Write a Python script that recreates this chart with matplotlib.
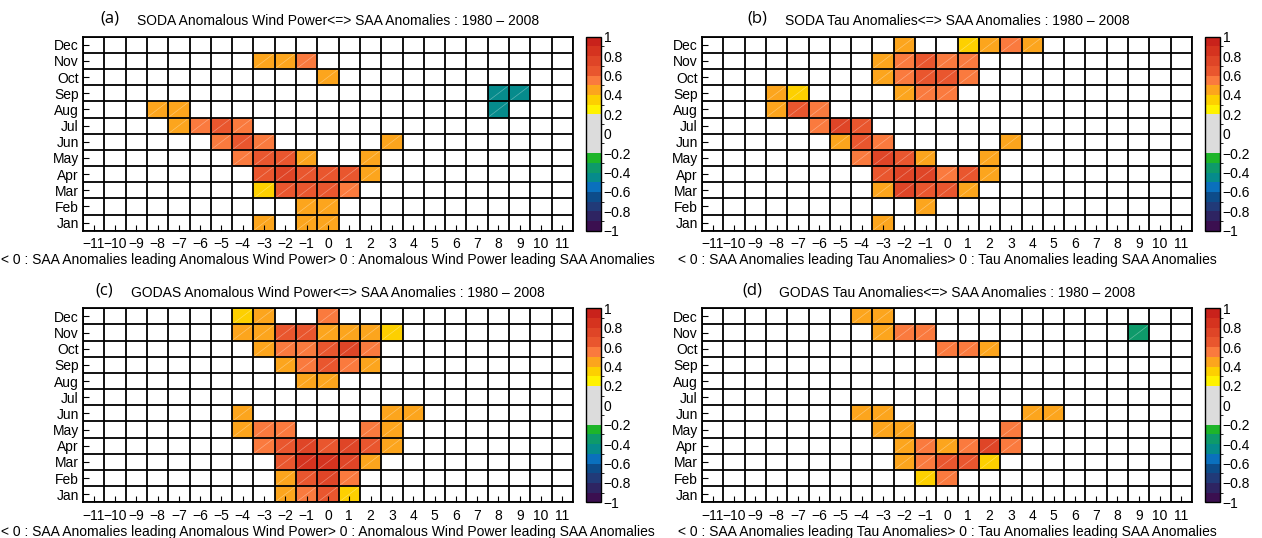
import numpy as np
import matplotlib
matplotlib.use('Agg')
import matplotlib.pyplot as plt
from matplotlib.colors import ListedColormap, BoundaryNorm
from matplotlib.cm import ScalarMappable

plt.rcParams['font.family'] = ['Liberation Sans', 'DejaVu Sans']
plt.rcParams['axes.unicode_minus'] = True

lags = list(range(-11, 12))
months = ['Jan', 'Feb', 'Mar', 'Apr', 'May', 'Jun', 'Jul', 'Aug', 'Sep', 'Oct', 'Nov', 'Dec']

# significant correlations: (month, lag, value)
soda_windpower = [
    ('Nov', -3, 0.45), ('Nov', -2, 0.45), ('Nov', -1, 0.55),
    ('Oct', 0, 0.45),
    ('Sep', 8, -0.45), ('Sep', 9, -0.45),
    ('Aug', -8, 0.45), ('Aug', -7, 0.45), ('Aug', 8, -0.45),
    ('Jul', -7, 0.45), ('Jul', -6, 0.55), ('Jul', -5, 0.65), ('Jul', -4, 0.55),
    ('Jun', -5, 0.55), ('Jun', -4, 0.65), ('Jun', -3, 0.55), ('Jun', 3, 0.45),
    ('May', -4, 0.55), ('May', -3, 0.65), ('May', -2, 0.65), ('May', -1, 0.45), ('May', 2, 0.45),
    ('Apr', -3, 0.65), ('Apr', -2, 0.75), ('Apr', -1, 0.65), ('Apr', 0, 0.65), ('Apr', 1, 0.65), ('Apr', 2, 0.45),
    ('Mar', -3, 0.35), ('Mar', -2, 0.65), ('Mar', -1, 0.65), ('Mar', 0, 0.65), ('Mar', 1, 0.55),
    ('Feb', -1, 0.45), ('Feb', 0, 0.45),
    ('Jan', -3, 0.45), ('Jan', -1, 0.45), ('Jan', 0, 0.45),
]

soda_tau = [
    ('Dec', -2, 0.45), ('Dec', 1, 0.35), ('Dec', 2, 0.45), ('Dec', 3, 0.55), ('Dec', 4, 0.45),
    ('Nov', -3, 0.45), ('Nov', -2, 0.55), ('Nov', -1, 0.65), ('Nov', 0, 0.55), ('Nov', 1, 0.55),
    ('Oct', -3, 0.45), ('Oct', -2, 0.55), ('Oct', -1, 0.65), ('Oct', 0, 0.65), ('Oct', 1, 0.55),
    ('Sep', -8, 0.45), ('Sep', -7, 0.35), ('Sep', -2, 0.45), ('Sep', -1, 0.55), ('Sep', 0, 0.55),
    ('Aug', -8, 0.45), ('Aug', -7, 0.65), ('Aug', -6, 0.55),
    ('Jul', -6, 0.55), ('Jul', -5, 0.75), ('Jul', -4, 0.65),
    ('Jun', -5, 0.45), ('Jun', -4, 0.65), ('Jun', -3, 0.55), ('Jun', 3, 0.45),
    ('May', -4, 0.55), ('May', -3, 0.75), ('May', -2, 0.65), ('May', -1, 0.45), ('May', 2, 0.45),
    ('Apr', -3, 0.65), ('Apr', -2, 0.75), ('Apr', -1, 0.75), ('Apr', 0, 0.55), ('Apr', 1, 0.65), ('Apr', 2, 0.45),
    ('Mar', -3, 0.45), ('Mar', -2, 0.75), ('Mar', -1, 0.65), ('Mar', 0, 0.65), ('Mar', 1, 0.45),
    ('Feb', -1, 0.45),
    ('Jan', -3, 0.45),
]

godas_windpower = [
    ('Dec', -4, 0.35), ('Dec', -3, 0.45), ('Dec', 0, 0.55),
    ('Nov', -4, 0.45), ('Nov', -3, 0.45), ('Nov', -2, 0.65), ('Nov', -1, 0.65), ('Nov', 0, 0.45),
    ('Nov', 1, 0.45), ('Nov', 2, 0.45), ('Nov', 3, 0.35),
    ('Oct', -3, 0.45), ('Oct', -2, 0.55), ('Oct', -1, 0.55), ('Oct', 0, 0.65), ('Oct', 1, 0.75), ('Oct', 2, 0.55),
    ('Sep', -2, 0.45), ('Sep', -1, 0.55), ('Sep', 0, 0.65), ('Sep', 1, 0.55), ('Sep', 2, 0.45),
    ('Aug', -1, 0.45), ('Aug', 0, 0.45),
    ('Jun', -4, 0.45), ('Jun', 3, 0.45), ('Jun', 4, 0.45),
    ('May', -4, 0.45), ('May', -3, 0.55), ('May', -2, 0.55), ('May', 2, 0.55), ('May', 3, 0.45),
    ('Apr', -3, 0.55), ('Apr', -2, 0.65), ('Apr', -1, 0.75), ('Apr', 0, 0.65), ('Apr', 1, 0.75),
    ('Apr', 2, 0.65), ('Apr', 3, 0.45),
    ('Mar', -2, 0.65), ('Mar', -1, 0.85), ('Mar', 0, 0.85), ('Mar', 1, 0.75), ('Mar', 2, 0.45),
    ('Feb', -2, 0.45), ('Feb', -1, 0.65), ('Feb', 0, 0.75), ('Feb', 1, 0.55),
    ('Jan', -2, 0.45), ('Jan', -1, 0.55), ('Jan', 0, 0.65), ('Jan', 1, 0.35),
]

godas_tau = [
    ('Dec', -4, 0.45), ('Dec', -3, 0.45),
    ('Nov', -3, 0.45), ('Nov', -2, 0.55), ('Nov', -1, 0.55), ('Nov', 9, -0.35),
    ('Oct', 0, 0.55), ('Oct', 1, 0.55), ('Oct', 2, 0.45),
    ('Jun', -4, 0.45), ('Jun', -3, 0.45), ('Jun', 4, 0.45), ('Jun', 5, 0.45),
    ('May', -3, 0.45), ('May', -2, 0.45), ('May', 3, 0.55),
    ('Apr', -2, 0.45), ('Apr', -1, 0.55), ('Apr', 0, 0.45), ('Apr', 1, 0.55), ('Apr', 2, 0.75), ('Apr', 3, 0.55),
    ('Mar', -2, 0.45), ('Mar', -1, 0.55), ('Mar', 0, 0.65), ('Mar', 1, 0.65), ('Mar', 2, 0.35),
    ('Feb', -1, 0.35), ('Feb', 0, 0.55),
]

panel_letters = ['(a)', '(b)', '(c)', '(d)']
panel_titles = [
    'SODA Anomalous Wind Power<=> SAA Anomalies : 1980 \u2013 2008',
    'SODA Tau Anomalies<=> SAA Anomalies : 1980 \u2013 2008',
    'GODAS Anomalous Wind Power<=> SAA Anomalies : 1980 \u2013 2008',
    'GODAS Tau Anomalies<=> SAA Anomalies : 1980 \u2013 2008',
]
panel_xlabels = [
    '< 0 : SAA Anomalies leading Anomalous Wind Power> 0 : Anomalous Wind Power leading SAA Anomalies',
    '< 0 : SAA Anomalies leading Tau Anomalies> 0 : Tau Anomalies leading SAA Anomalies',
    '< 0 : SAA Anomalies leading Anomalous Wind Power> 0 : Anomalous Wind Power leading SAA Anomalies',
    '< 0 : SAA Anomalies leading Tau Anomalies> 0 : Tau Anomalies leading SAA Anomalies',
]
panel_data = [soda_windpower, soda_tau, godas_windpower, godas_tau]

# colour scale: 20 bins from -1 to 1
cbar_colors = [
    '#3b0f50', '#2e2462', '#213a78', '#0d4c8a', '#0a70bd',
    '#068b8c', '#0e9a6a', '#1eb52a', '#dcdcdc', '#dcdcdc',
    '#dcdcdc', '#dcdcdc', '#fff200', '#fdd000', '#fca51d',
    '#fa7a3e', '#e9562e', '#df4527', '#d5331f', '#c9221b',
]
cmap = ListedColormap(cbar_colors)
bounds = np.linspace(-1, 1, 21)
norm = BoundaryNorm(bounds, cmap.N)

W, H = 1262, 538
fig = plt.figure(figsize=(W / 100, H / 100), dpi=100)

ax_px = [  # left, top, width, height in pixels
    (83, 36.7, 490, 194),
    (702, 36.7, 490, 194),
    (83, 308.3, 490, 194),
    (702, 308.3, 490, 194),
]
cb_px = [
    (586, 36.7, 15, 194),
    (1205, 36.7, 15, 194),
    (586, 308.3, 15, 194),
    (1205, 308.3, 15, 194),
]

def frac(l, t, w, h):
    return [l / W, 1 - (t + h) / H, w / W, h / H]

def cb_fmt(v, pos=None):
    if abs(v) < 1e-9:
        return '0'
    return ('%g' % round(v, 1)).replace('-', '\u2212')

FS = 10
x_edges = np.arange(lags[0] - 0.5, lags[-1] + 1.0, 1.0)
y_edges = np.arange(-0.5, len(months), 1.0)

for i in range(4):
    ax = fig.add_axes(frac(*ax_px[i]))
    Z = np.full((len(months), len(lags)), np.nan)
    for m, lag, v in panel_data[i]:
        Z[months.index(m), lags.index(lag)] = v
    ax.set_facecolor('white')
    ax.pcolormesh(x_edges, y_edges, np.ma.masked_invalid(Z), cmap=cmap, norm=norm)
    # faint diagonal on significant cells
    for m, lag, v in panel_data[i]:
        yy = months.index(m)
        ax.plot([lag - 0.5, lag + 0.5], [yy - 0.5, yy + 0.5], color='white',
                alpha=0.35, lw=0.5, zorder=3)
    ax.vlines(x_edges, -0.5, len(months) - 0.5, color='black', lw=1.3, zorder=4)
    ax.hlines(y_edges, x_edges[0], x_edges[-1], color='black', lw=1.3, zorder=4)
    ax.set_xlim(x_edges[0], x_edges[-1])
    ax.set_ylim(y_edges[0], y_edges[-1])
    ax.set_xticks(lags)
    ax.set_yticks(range(len(months)))
    ax.set_yticklabels(months)
    ax.tick_params(axis='both', direction='in', length=4, width=0.8,
                   top=False, right=False, labelsize=FS)
    ax.tick_params(axis='x', pad=4.5)
    ax.tick_params(axis='y', pad=3)
    for s in ax.spines.values():
        s.set_linewidth(1.3)
    ax.set_xlabel(panel_xlabels[i], fontsize=FS, labelpad=1.5)
    l, t, w, h = ax_px[i]
    title = fig.text((l + w / 2 + 10) / W, 1 - (t - 15.5) / H, panel_titles[i],
                     fontsize=FS, ha='center', va='center')
    fig.canvas.draw()
    ax.annotate(panel_letters[i], xy=(0, 0.5), xycoords=title,
                xytext=(-27, 2.5), textcoords='offset pixels',
                ha='center', va='center', fontsize=12,
                family=['Open Sans', 'DejaVu Sans'])

    cax = fig.add_axes(frac(*cb_px[i]))
    sm = ScalarMappable(norm=norm, cmap=cmap)
    cb = fig.colorbar(sm, cax=cax, ticks=np.linspace(-1, 1, 11))
    cb.ax.yaxis.set_major_formatter(plt.FuncFormatter(cb_fmt))
    cb.ax.tick_params(length=0, labelsize=FS, pad=2)
    cb.outline.set_linewidth(1.0)

fig.savefig('out.png', dpi=100)
